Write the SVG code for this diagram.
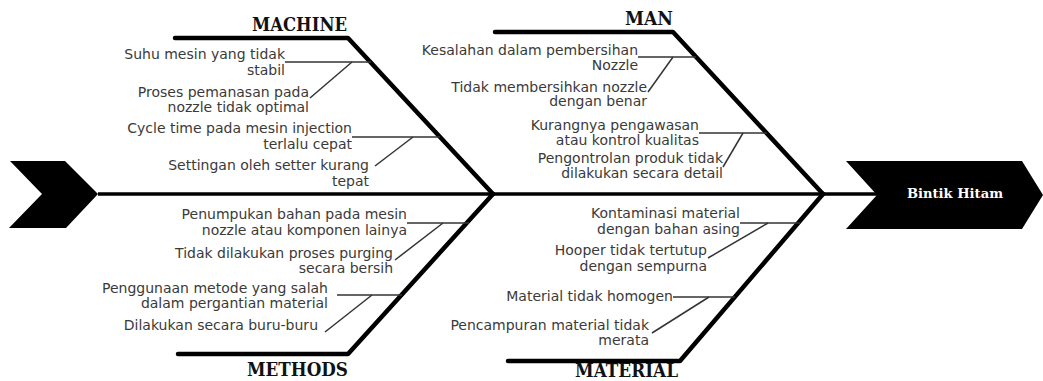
<svg xmlns="http://www.w3.org/2000/svg" width="1043" height="381" viewBox="0 0 1043 381">
<style>
.bone{fill:none;stroke:#000;stroke-width:4.5;stroke-linecap:round;stroke-linejoin:round}
.spine{fill:none;stroke:#000;stroke-width:3.5}
.sub{fill:none;stroke:#333;stroke-width:1.5}
.t{font-family:"DejaVu Sans","Liberation Sans",sans-serif;font-size:14px;fill:#3a3a3a;text-anchor:end}
.h{font-family:"DejaVu Serif","Liberation Serif",serif;font-weight:bold;font-size:18px;fill:#111;text-anchor:end}
</style>
<rect width="1043" height="381" fill="#fff"/>
<g id="connectors">
<line class="spine" x1="98" y1="194" x2="878" y2="194"/>
<polyline class="bone" points="175,38 348,38 493,194"/>
<polyline class="bone" points="493,194 348,354 178,354"/>
<polyline class="bone" points="495,32 673,32 823,194"/>
<polyline class="bone" points="823,194 680,361 508,361"/>
<g id="machine-branches">
<line class="sub" x1="285" y1="62" x2="371" y2="62"/>
<line class="sub" x1="352" y1="62" x2="310" y2="98"/>
<line class="sub" x1="352" y1="137" x2="440" y2="137"/>
<line class="sub" x1="413" y1="137" x2="375" y2="166"/>
</g>
<g id="man-branches">
<line class="sub" x1="638" y1="57" x2="696" y2="57"/>
<line class="sub" x1="673" y1="57" x2="648" y2="92"/>
<line class="sub" x1="699" y1="133" x2="767" y2="133"/>
<line class="sub" x1="743" y1="133" x2="723" y2="167"/>
</g>
<g id="methods-branches">
<line class="sub" x1="407" y1="223" x2="469" y2="223"/>
<line class="sub" x1="443" y1="223" x2="395" y2="260"/>
<line class="sub" x1="337" y1="295" x2="402" y2="295"/>
<line class="sub" x1="372" y1="295" x2="325" y2="332"/>
</g>
<g id="material-branches">
<line class="sub" x1="740" y1="223" x2="800" y2="223"/>
<line class="sub" x1="768" y1="223" x2="708" y2="258"/>
<line class="sub" x1="673" y1="297" x2="735" y2="297"/>
<line class="sub" x1="709" y1="297" x2="652" y2="333"/>
</g>
</g>
<g id="tail">
<polygon points="10,161 65,161 98,194 66,228 9,228 42,194" fill="#000"/>
</g>
<g id="head">
<polygon points="846,161 1022,161 1043,195 1022,229 846,229 877,195" fill="#000"/>
<text x="955" y="198" font-family="DejaVu Serif, Liberation Serif, serif" font-weight="bold" font-size="13" fill="#fff" text-anchor="middle" textLength="96" lengthAdjust="spacingAndGlyphs">Bintik Hitam</text>
</g>
<g id="machine">
<text class="h" x="347" y="31" textLength="95" lengthAdjust="spacingAndGlyphs">MACHINE</text>
<text class="t" x="285" y="59">Suhu mesin yang tidak</text>
<text class="t" x="285" y="75">stabil</text>
<text class="t" x="309" y="97">Proses pemanasan pada</text>
<text class="t" x="309" y="112">nozzle tidak optimal</text>
<text class="t" x="352" y="133">Cycle time pada mesin injection</text>
<text class="t" x="352" y="149">terlalu cepat</text>
<text class="t" x="369" y="170">Settingan oleh setter kurang</text>
<text class="t" x="369" y="186">tepat</text>
</g>
<g id="man">
<text class="h" x="673" y="25" textLength="48" lengthAdjust="spacingAndGlyphs">MAN</text>
<text class="t" x="638" y="55">Kesalahan dalam pembersihan</text>
<text class="t" x="638" y="70">Nozzle</text>
<text class="t" x="647" y="92">Tidak membersihkan nozzle</text>
<text class="t" x="647" y="106">dengan benar</text>
<text class="t" x="699" y="130">Kurangnya pengawasan</text>
<text class="t" x="699" y="145">atau kontrol kualitas</text>
<text class="t" x="723" y="163">Pengontrolan produk tidak</text>
<text class="t" x="723" y="178">dilakukan secara detail</text>
</g>
<g id="methods">
<text class="h" x="348" y="376" textLength="101" lengthAdjust="spacingAndGlyphs">METHODS</text>
<text class="t" x="407" y="219">Penumpukan bahan pada mesin</text>
<text class="t" x="407" y="235">nozzle atau komponen lainya</text>
<text class="t" x="393" y="258">Tidak dilakukan proses purging</text>
<text class="t" x="393" y="273">secara bersih</text>
<text class="t" x="328" y="293">Penggunaan metode yang salah</text>
<text class="t" x="328" y="308">dalam pergantian material</text>
<text class="t" x="318" y="330">Dilakukan secara buru-buru</text>
</g>
<g id="material">
<text class="h" x="678" y="377" textLength="103" lengthAdjust="spacingAndGlyphs">MATERIAL</text>
<text class="t" x="740" y="218">Kontaminasi material</text>
<text class="t" x="740" y="234">dengan bahan asing</text>
<text class="t" x="707" y="255">Hooper tidak tertutup</text>
<text class="t" x="707" y="271">dengan sempurna</text>
<text class="t" x="673" y="301">Material tidak homogen</text>
<text class="t" x="649" y="330">Pencampuran material tidak</text>
<text class="t" x="649" y="345">merata</text>
</g>
</svg>
